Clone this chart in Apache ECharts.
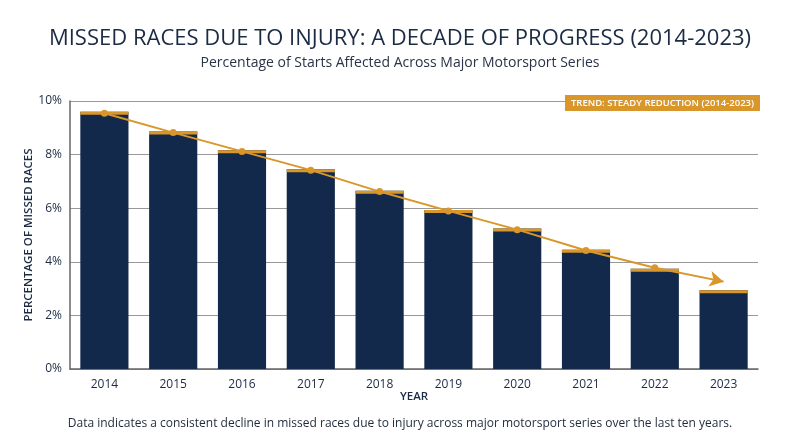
<!DOCTYPE html>
<html>
<head>
<meta charset="utf-8">
<script src="https://cdn.jsdelivr.net/npm/echarts@6/dist/echarts.min.js"></script>
<style>
  html, body { margin: 0; padding: 0; background: #fff; }
  #chart { width: 800px; height: 447px; }
</style>
</head>
<body>
<div id="chart"></div>
<script>
// values
const years = ["2014", "2015", "2016", "2017", "2018", "2019", "2020", "2021", "2022", "2023"];
const missedPct = [9.6, 8.86, 8.16, 7.45, 6.65, 5.93, 5.24, 4.45, 3.74, 2.94];
const trendPct = [9.54, 8.82, 8.12, 7.42, 6.62, 5.9, 5.2, 4.42, 3.78, 3.26];

const navy = "#13294b";
const gold = "#d9962b";
const font = "Open Sans";

let chart = echarts.init(document.getElementById("chart"));

// last trend point becomes the arrow head
let trendData = trendPct.map((v, i) => {
  if (i < trendPct.length - 1) return v;
  return { value: v, symbol: "arrow", symbolSize: [12, 14], symbolRotate: -102 };
});

chart.setOption({
  backgroundColor: "#fff",
  animation: false,
  textStyle: { fontFamily: font },
  title: [
    {
      text: "MISSED RACES DUE TO INJURY: A DECADE OF PROGRESS (2014-2023)",
      left: "center", top: 23,
      textStyle: { fontSize: 22, fontWeight: "normal", color: "#1b2b44", fontFamily: font }
    },
    {
      text: "Percentage of Starts Affected Across Major Motorsport Series",
      left: "center", top: 51,
      textStyle: { fontSize: 14, fontWeight: "normal", color: "#2a3447", fontFamily: font }
    },
    {
      text: "TREND: STEADY REDUCTION (2014-2023)",
      right: 40, top: 95,
      backgroundColor: gold,
      padding: [3, 6],
      textStyle: { fontSize: 9.5, fontWeight: 600, color: "#fff", fontFamily: font }
    },
    {
      text: "Data indicates a consistent decline in missed races due to injury across major motorsport series over the last ten years.",
      left: "center", top: 413,
      textStyle: { fontSize: 12, fontWeight: "normal", color: "#1f2a3a", fontFamily: font }
    }
  ],
  grid: { left: 70, right: 42, top: 101, bottom: 78 },
  xAxis: {
    type: "category",
    data: years,
    name: "YEAR",
    nameLocation: "middle",
    nameGap: 22,
    nameMoveOverlap: false,
    nameTextStyle: { fontSize: 11.5, fontWeight: 600, color: "#1b2b44", fontFamily: font },
    axisTick: { show: false },
    axisLine: { lineStyle: { color: "#666", width: 1.5 } },
    axisLabel: { fontSize: 12, color: "#1b2b44", margin: 10 }
  },
  yAxis: {
    type: "value",
    min: 0, max: 10, interval: 2,
    name: "PERCENTAGE OF MISSED RACES",
    nameLocation: "middle",
    nameGap: 35,
    nameMoveOverlap: false,
    nameTextStyle: { fontSize: 11.5, fontWeight: 600, color: "#1b2b44", fontFamily: font },
    axisLine: { show: true, lineStyle: { color: "#666", width: 1.5 } },
    axisLabel: { formatter: "{value}%", fontSize: 12, color: "#1b2b44" },
    splitLine: { lineStyle: { color: "#999", width: 1 } }
  },
  series: [
    {
      type: "bar",
      data: missedPct,
      barWidth: "70%",
      itemStyle: { color: navy }
    },
    {
      // thin gold cap on top of each bar
      type: "pictorialBar",
      data: missedPct,
      barWidth: "70%",
      symbol: "rect",
      symbolSize: ["100%", 3],
      symbolPosition: "end",
      itemStyle: { color: gold },
      z: 3
    },
    {
      type: "line",
      data: trendData,
      symbol: "circle",
      symbolSize: 7,
      lineStyle: { color: gold, width: 2 },
      itemStyle: { color: gold },
      z: 5
    }
  ]
});
</script>
</body>
</html>
